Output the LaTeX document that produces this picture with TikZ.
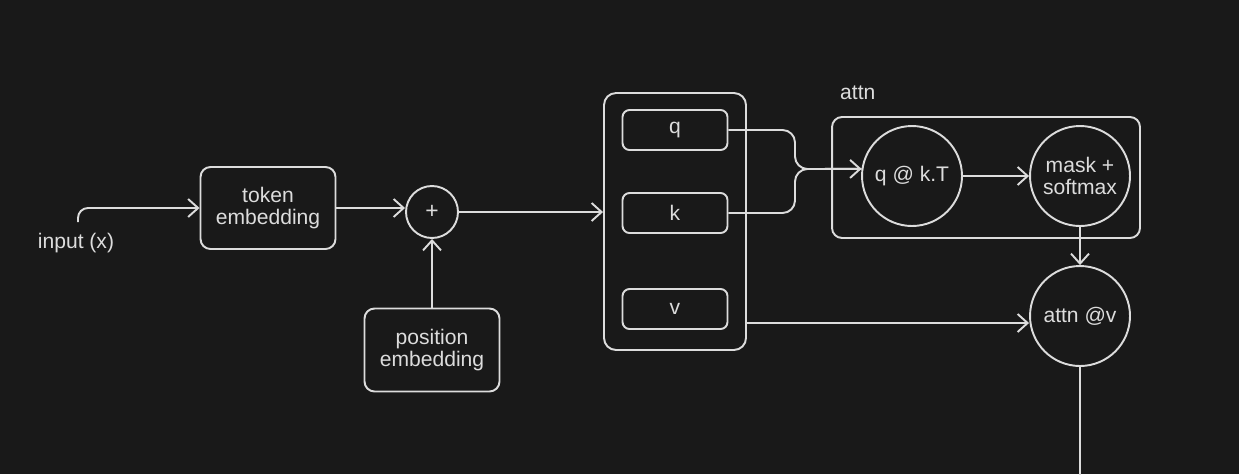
\documentclass[tikz,border=0pt]{standalone}
\usepackage{fontspec}
\setmainfont{Liberation Sans}
\usetikzlibrary{arrows.meta}
\definecolor{bg}{HTML}{191919}
\definecolor{ink}{HTML}{DCDCDC}
\begin{document}
\begin{tikzpicture}[x=0.02cm,y=-0.02cm,
  every node/.style={text=ink,font=\fontsize{12}{14}\selectfont,align=center},
  box/.style={draw=ink,line width=1.1pt,rounded corners=0.2cm,inner sep=0pt},
  circ/.style={draw=ink,line width=1.1pt,circle,inner sep=0pt,minimum size=2cm},
  conn/.style={draw=ink,line width=1.1pt},
  arr/.style={conn,-{Straight Barb[length=0.2cm,width=0.36cm,line width=1.1pt]}}]
\fill[bg] (0,0) rectangle (1239,474);
\useasboundingbox (0,0) rectangle (1239,474);
% nodes
\node (inlbl) at (76,243) {input (x)};
\coordinate (in) at (78,222);
\node[box,minimum width=2.7cm,minimum height=1.64cm] (tok) at (268,208) {token\\[-1pt]embedding};
\node[circ,minimum size=1.04cm,font=\fontsize{13}{14}\selectfont] (plus) at (432,212) {+};
\node[box,minimum width=2.7cm,minimum height=1.66cm] (pos) at (432,350) {position\\[-1pt]embedding};
\node[box,rounded corners=0.24cm,minimum width=2.84cm,minimum height=5.14cm] (qkv) at (675,221.5) {};
\node[box,rounded corners=0.14cm,minimum width=2.1cm,minimum height=0.8cm] (q) at (675,130) {q};
\node[box,rounded corners=0.14cm,minimum width=2.1cm,minimum height=0.8cm] (k) at (675,213) {k};
\node[box,rounded corners=0.14cm,minimum width=2.1cm,minimum height=0.8cm] (v) at (675,309) {v};
\node[box,minimum width=6.16cm,minimum height=2.42cm] (attn) at (986,177.5) {};
\node[anchor=west] (attnlbl) at (834,93) {attn};
\node[circ] (qk) at (912,176) {q @ k.T};
\node[circ] (mask) at (1080,176) {mask +\\[-1pt]softmax};
\node[circ] (av) at (1080,316) {attn @v};
\coordinate (vout) at (746,323);
\coordinate (bottom) at (1080,480);
% connectors
\draw[arr,rounded corners=0.2cm] (in) |- (tok.west);
\draw[arr] (tok.east) -- (tok.east -| plus.west);
\draw[arr] (pos.north) -- (plus.south);
\draw[arr] (plus.east) -- (qkv.west |- plus.east);
\draw[conn,rounded corners=0.25cm] (q.east) -- (795,130) -- (795,169) -- (qk.172);
\draw[arr,rounded corners=0.25cm] (k.east) -- (795,213) -- (795,169) -- (qk.172);
\draw[arr] (qk.east) -- (mask.west);
\draw[arr] (mask.south) -- (av.north);
\draw[arr] (vout) -- (av.west |- vout);
\draw[conn] (av.south) -- (bottom);
\end{tikzpicture}
\end{document}
